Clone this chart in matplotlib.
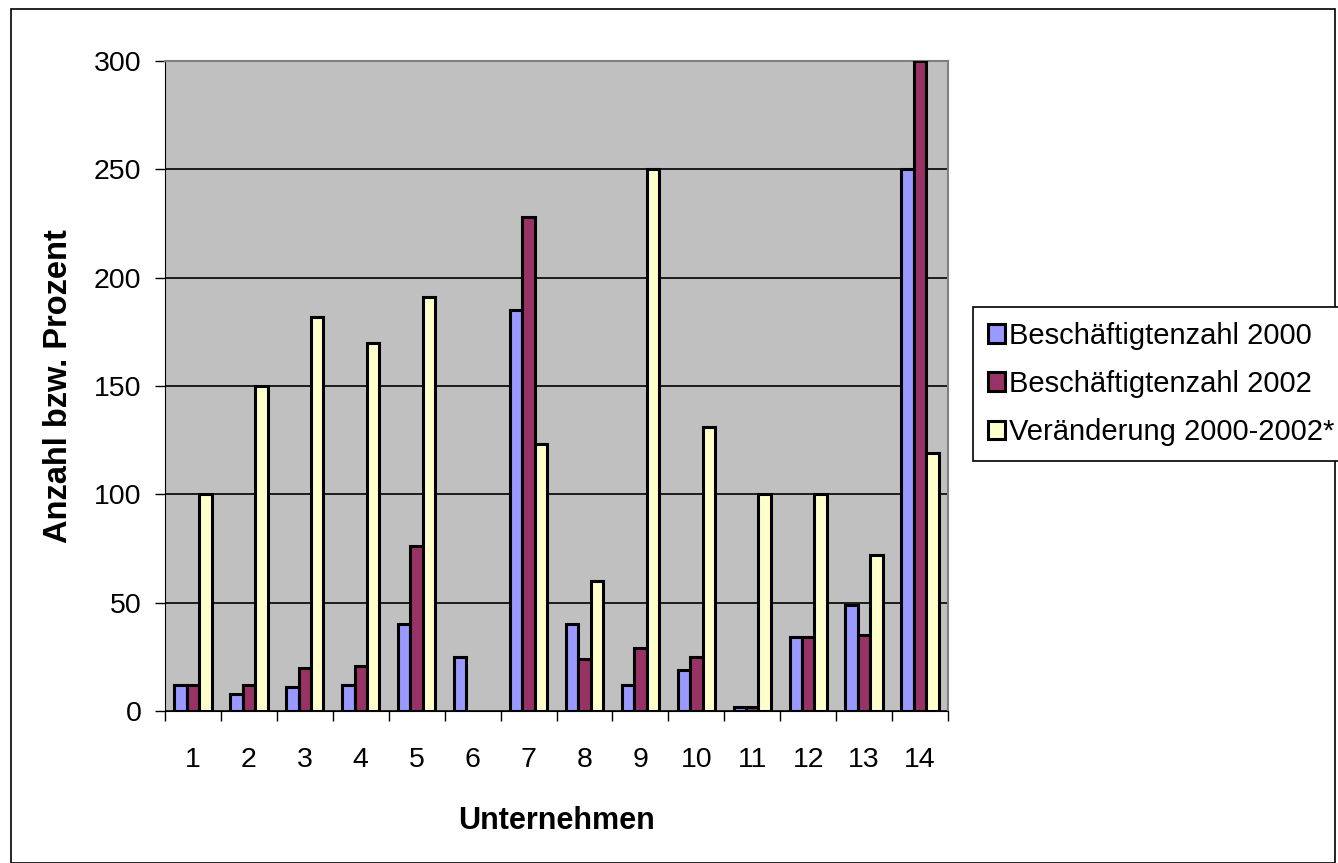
import matplotlib
matplotlib.use("Agg")
import matplotlib.pyplot as plt
import numpy as np
from matplotlib.patches import Rectangle

plt.rcParams["font.family"] = ["Liberation Sans", "DejaVu Sans"]

# data
unternehmen = [str(i) for i in range(1, 15)]
beschaeftigte_2000 = [12, 8, 11, 12, 40, 25, 185, 40, 12, 19, 2, 34, 49, 250]
beschaeftigte_2002 = [12, 12, 20, 21, 76, 0, 228, 24, 29, 25, 2, 34, 35, 300]
veraenderung = [100, 150, 182, 170, 191, 0, 123, 60, 250, 131, 100, 100, 72, 119]
series_labels = ["Beschäftigtenzahl 2000", "Beschäftigtenzahl 2002", "Veränderung 2000-2002*"]
colors = ["#9999FF", "#993366", "#FFFFCC"]

fig = plt.figure(figsize=(13.38, 8.63), dpi=100)
ax = fig.add_axes([165 / 1338, 1 - 711 / 863, 783 / 1338, 650 / 863])
ax.set_facecolor("#C0C0C0")

x = np.arange(len(unternehmen))
w = 1 / 4.5   # excel gap width 150%
handles = []
for k, (vals, col, lab) in enumerate(zip([beschaeftigte_2000, beschaeftigte_2002, veraenderung],
                                        colors, series_labels)):
    vals = np.array(vals, float)
    h = ax.bar(x + (k - 1) * w, np.where(vals > 0, vals, np.nan), w, color=col,
               edgecolor="black", lw=2.2, label=lab, zorder=3)
    handles.append(h)

ax.set_xlim(-0.5, len(unternehmen) - 0.5)
ax.set_ylim(0, 300)
ax.set_yticks(np.arange(0, 301, 50))
ax.yaxis.grid(True, color="black", lw=1.2, zorder=1)
ax.set_axisbelow(True)

# ticks between categories, labels in the centre
ax.set_xticks(np.arange(-0.5, len(unternehmen)), minor=False)
ax.set_xticklabels([])
ax.set_xticks(x, minor=True)
ax.set_xticklabels(unternehmen, minor=True)
ax.tick_params(axis="x", which="major", length=7, width=1, color="black", direction="out")
ax.tick_params(axis="x", which="minor", length=0, pad=26, labelsize=20.5)
ax.tick_params(axis="y", length=7, width=1, direction="out", pad=10, labelsize=20.5)

for s in ["top", "right"]:
    ax.spines[s].set_color("#808080")
    ax.spines[s].set_linewidth(1.5)
ax.spines["left"].set_color("black")
ax.spines["bottom"].set_color("black")

ax.set_xlabel("Unternehmen", fontsize=22, fontweight="bold", labelpad=24)
ax.set_ylabel("Anzahl bzw. Prozent", fontsize=23.5, fontweight="bold", labelpad=14)

leg = fig.legend(handles=handles, loc="upper left", bbox_to_anchor=(973 / 1338, 1 - 307 / 863),
                 fontsize=21, frameon=True, fancybox=False, edgecolor="black", framealpha=1,
                 handlelength=0.6, handleheight=0.6, handletextpad=0.15, borderpad=0.5,
                 labelspacing=0.7, borderaxespad=0)
leg.get_frame().set_linewidth(1.2)

fig.patches.append(Rectangle((11 / 1338, 0), 1324 / 1338, 1 - 9 / 863, transform=fig.transFigure,
                             fill=False, edgecolor="black", lw=1.2))

fig.savefig("out.png", dpi=100)
